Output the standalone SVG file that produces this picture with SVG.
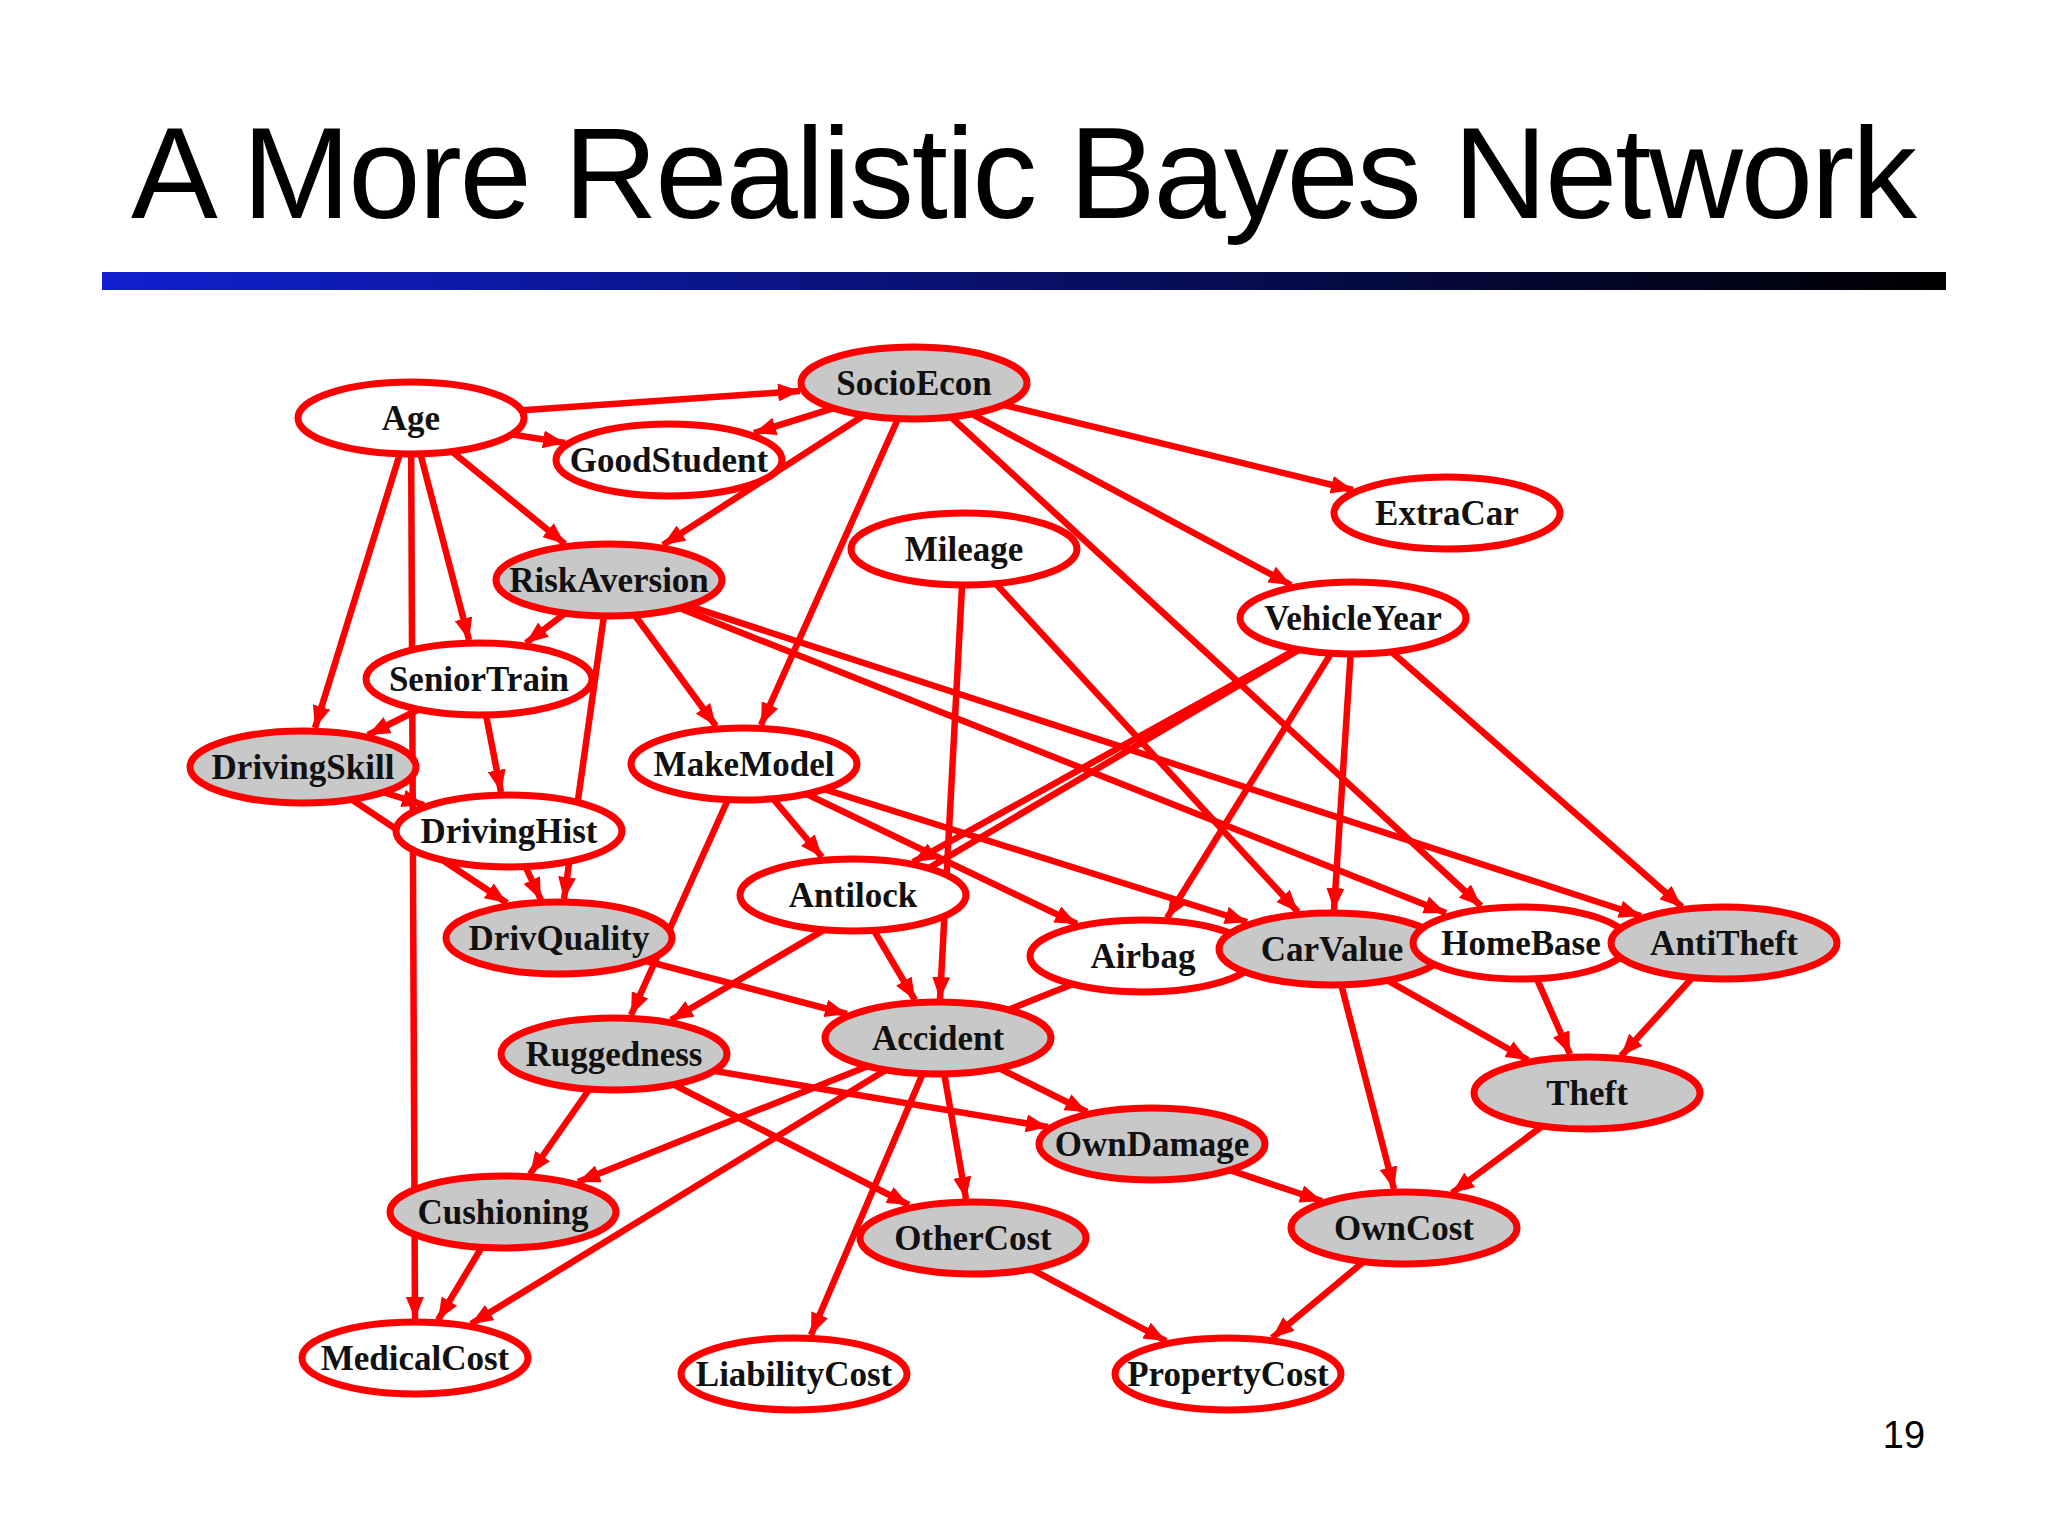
<svg xmlns="http://www.w3.org/2000/svg" width="2048" height="1536" viewBox="0 0 2048 1536">
<style>
.t{font-family:"Liberation Sans",Arial,sans-serif}
.n ellipse{stroke:#f00;stroke-width:7;fill:#fff}
.n.g ellipse{fill:#c8c8c8}
.n text{font-family:"Liberation Serif","Times New Roman",serif;font-weight:bold;font-size:35px;text-anchor:middle;fill:#111}
#edges line{stroke:#f00;stroke-width:6.5;marker-end:url(#ah)}
</style>
<defs>
<linearGradient id="bar" x1="0" x2="1" y1="0" y2="0"><stop offset="0" stop-color="#1020d0"/><stop offset="1" stop-color="#000"/></linearGradient>
<marker id="ah" markerUnits="userSpaceOnUse" markerWidth="24" markerHeight="18" refX="22" refY="9" orient="auto"><path d="M0,0 L22,9 L0,18 z" fill="#f00"/></marker>
</defs>
<rect width="2048" height="1536" fill="#fff"/>
<text class="t" x="1024" y="218" font-size="130" text-anchor="middle" textLength="1786">A More Realistic Bayes Network</text>
<rect x="102" y="272" width="1844" height="18" fill="url(#bar)"/>
<text class="t" x="1904" y="1448" font-size="38" text-anchor="middle">19</text>
<g id="edges">
<line x1="411" y1="418" x2="800" y2="391"/>
<line x1="411" y1="418" x2="565" y2="443"/>
<line x1="411" y1="418" x2="565" y2="544"/>
<line x1="411" y1="418" x2="469" y2="640"/>
<line x1="411" y1="418" x2="315" y2="728"/>
<line x1="411" y1="418" x2="415" y2="1319"/>
<line x1="914" y1="383" x2="754" y2="433"/>
<line x1="914" y1="383" x2="663" y2="545"/>
<line x1="914" y1="383" x2="761" y2="725"/>
<line x1="914" y1="383" x2="1353" y2="490"/>
<line x1="914" y1="383" x2="1291" y2="585"/>
<line x1="914" y1="383" x2="1481" y2="906"/>
<line x1="1353" y1="618" x2="1682" y2="907"/>
<line x1="609" y1="580" x2="526" y2="643"/>
<line x1="479" y1="679" x2="501" y2="792"/>
<line x1="609" y1="580" x2="564" y2="899"/>
<line x1="609" y1="580" x2="716" y2="726"/>
<line x1="609" y1="580" x2="1446" y2="913"/>
<line x1="609" y1="580" x2="1641" y2="916"/>
<line x1="479" y1="679" x2="368" y2="735"/>
<line x1="303" y1="767" x2="424" y2="805"/>
<line x1="303" y1="767" x2="507" y2="903"/>
<line x1="509" y1="831" x2="541" y2="900"/>
<line x1="744" y1="764" x2="822" y2="857"/>
<line x1="744" y1="764" x2="1077" y2="924"/>
<line x1="744" y1="764" x2="1247" y2="922"/>
<line x1="744" y1="764" x2="631" y2="1015"/>
<line x1="1353" y1="618" x2="913" y2="862"/>
<line x1="1353" y1="618" x2="671" y2="1020"/>
<line x1="1353" y1="618" x2="1167" y2="918"/>
<line x1="1353" y1="618" x2="1334" y2="910"/>
<line x1="964" y1="549" x2="1298" y2="912"/>
<line x1="964" y1="549" x2="940" y2="999"/>
<line x1="853" y1="895" x2="915" y2="1000"/>
<line x1="559" y1="938" x2="847" y2="1014"/>
<line x1="1143" y1="956" x2="578" y2="1182"/>
<line x1="1332" y1="949" x2="1528" y2="1060"/>
<line x1="1521" y1="943" x2="1570" y2="1054"/>
<line x1="1724" y1="943" x2="1621" y2="1056"/>
<line x1="1332" y1="949" x2="1394" y2="1189"/>
<line x1="1587" y1="1093" x2="1452" y2="1193"/>
<line x1="1152" y1="1144" x2="1322" y2="1201"/>
<line x1="938" y1="1038" x2="1087" y2="1112"/>
<line x1="614" y1="1054" x2="1048" y2="1127"/>
<line x1="938" y1="1038" x2="966" y2="1199"/>
<line x1="614" y1="1054" x2="909" y2="1205"/>
<line x1="938" y1="1038" x2="811" y2="1335"/>
<line x1="938" y1="1038" x2="471" y2="1324"/>
<line x1="614" y1="1054" x2="530" y2="1174"/>
<line x1="503" y1="1212" x2="438" y2="1320"/>
<line x1="973" y1="1238" x2="1166" y2="1341"/>
<line x1="1404" y1="1228" x2="1272" y2="1338"/>
</g>
<g id="SocioEcon" class="n g"><ellipse cx="914" cy="383" rx="113" ry="36"/><text x="914" y="395">SocioEcon</text></g>
<g id="Age" class="n"><ellipse cx="411" cy="418" rx="113" ry="36"/><text x="411" y="430">Age</text></g>
<g id="GoodStudent" class="n"><ellipse cx="669" cy="460" rx="113" ry="36"/><text x="669" y="472">GoodStudent</text></g>
<g id="ExtraCar" class="n"><ellipse cx="1447" cy="513" rx="113" ry="36"/><text x="1447" y="525">ExtraCar</text></g>
<g id="Mileage" class="n"><ellipse cx="964" cy="549" rx="113" ry="36"/><text x="964" y="561">Mileage</text></g>
<g id="RiskAversion" class="n g"><ellipse cx="609" cy="580" rx="113" ry="36"/><text x="609" y="592">RiskAversion</text></g>
<g id="VehicleYear" class="n"><ellipse cx="1353" cy="618" rx="113" ry="36"/><text x="1353" y="630">VehicleYear</text></g>
<g id="SeniorTrain" class="n"><ellipse cx="479" cy="679" rx="113" ry="36"/><text x="479" y="691">SeniorTrain</text></g>
<g id="DrivingSkill" class="n g"><ellipse cx="303" cy="767" rx="113" ry="36"/><text x="303" y="779">DrivingSkill</text></g>
<g id="MakeModel" class="n"><ellipse cx="744" cy="764" rx="113" ry="36"/><text x="744" y="776">MakeModel</text></g>
<g id="DrivingHist" class="n"><ellipse cx="509" cy="831" rx="113" ry="36"/><text x="509" y="843">DrivingHist</text></g>
<g id="Antilock" class="n"><ellipse cx="853" cy="895" rx="113" ry="36"/><text x="853" y="907">Antilock</text></g>
<g id="DrivQuality" class="n g"><ellipse cx="559" cy="938" rx="113" ry="36"/><text x="559" y="950">DrivQuality</text></g>
<g id="Airbag" class="n"><ellipse cx="1143" cy="956" rx="113" ry="36"/><text x="1143" y="968">Airbag</text></g>
<g id="CarValue" class="n g"><ellipse cx="1332" cy="949" rx="113" ry="36"/><text x="1332" y="961">CarValue</text></g>
<g id="HomeBase" class="n"><ellipse cx="1521" cy="943" rx="108" ry="36"/><text x="1521" y="955">HomeBase</text></g>
<g id="AntiTheft" class="n g"><ellipse cx="1724" cy="943" rx="113" ry="36"/><text x="1724" y="955">AntiTheft</text></g>
<g id="Accident" class="n g"><ellipse cx="938" cy="1038" rx="113" ry="36"/><text x="938" y="1050">Accident</text></g>
<g id="Ruggedness" class="n g"><ellipse cx="614" cy="1054" rx="113" ry="36"/><text x="614" y="1066">Ruggedness</text></g>
<g id="Theft" class="n g"><ellipse cx="1587" cy="1093" rx="113" ry="36"/><text x="1587" y="1105">Theft</text></g>
<g id="OwnDamage" class="n g"><ellipse cx="1152" cy="1144" rx="113" ry="36"/><text x="1152" y="1156">OwnDamage</text></g>
<g id="Cushioning" class="n g"><ellipse cx="503" cy="1212" rx="113" ry="36"/><text x="503" y="1224">Cushioning</text></g>
<g id="OwnCost" class="n g"><ellipse cx="1404" cy="1228" rx="113" ry="36"/><text x="1404" y="1240">OwnCost</text></g>
<g id="OtherCost" class="n g"><ellipse cx="973" cy="1238" rx="113" ry="36"/><text x="973" y="1250">OtherCost</text></g>
<g id="MedicalCost" class="n"><ellipse cx="415" cy="1358" rx="113" ry="36"/><text x="415" y="1370">MedicalCost</text></g>
<g id="LiabilityCost" class="n"><ellipse cx="794" cy="1374" rx="113" ry="36"/><text x="794" y="1386">LiabilityCost</text></g>
<g id="PropertyCost" class="n"><ellipse cx="1228" cy="1374" rx="113" ry="36"/><text x="1228" y="1386">PropertyCost</text></g>
</svg>
